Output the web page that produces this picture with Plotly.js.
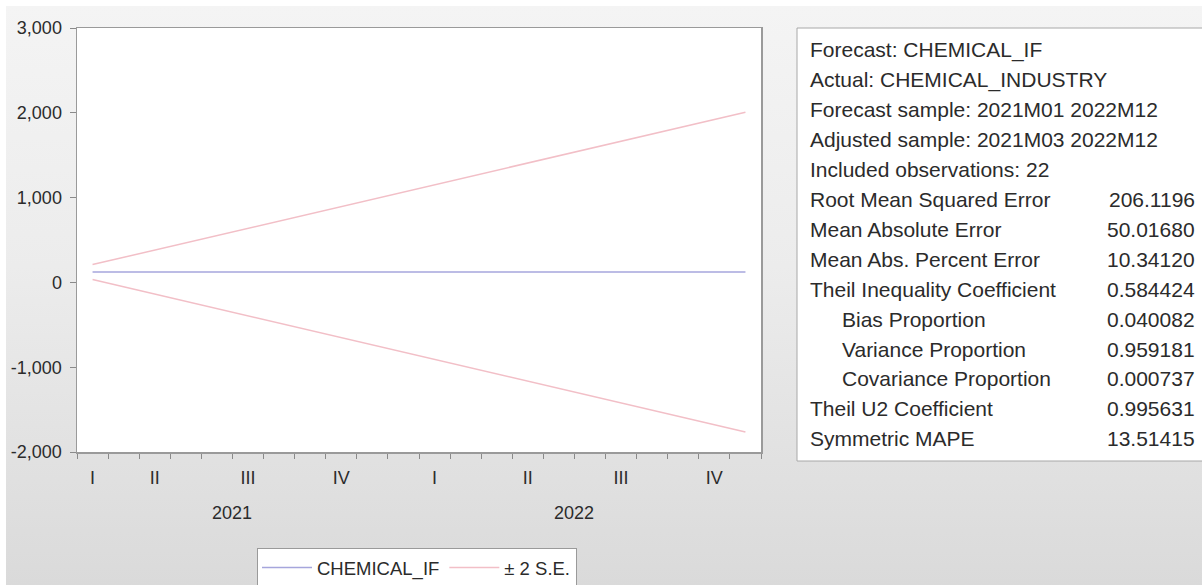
<!DOCTYPE html>
<html>
<head>
<meta charset="utf-8">
<script src="https://cdn.plot.ly/plotly-3.0.1.min.js"></script>
<style>
  html, body { margin: 0; padding: 0; background: #ffffff; }
  #bg { position: absolute; left: 6px; top: 6px; width: 1196px; height: 579px;
        background: linear-gradient(to bottom, #f4f4f4 0%, #ececec 45%, #dadada 100%); }
  #chart { position: absolute; left: 0; top: 0; width: 1202px; height: 585px; }
</style>
</head>
<body>
<div id="bg"></div>
<div id="chart"></div>
<script>
// ---- data ----
const months = ["2021M03","2021M04","2021M05","2021M06","2021M07","2021M08","2021M09","2021M10","2021M11","2021M12",
                "2022M01","2022M02","2022M03","2022M04","2022M05","2022M06","2022M07","2022M08","2022M09","2022M10","2022M11","2022M12"];
const forecastIF = [122,122,122,122,122,122,122,122,122,122,122,122,122,122,122,122,122,122,122,122,122,122];
const upperSE = [210,296,381,467,552,638,724,809,895,980,1066,1152,1237,1323,1408,1494,1580,1665,1751,1836,1922,2007];
const lowerSE = [34,-52,-137,-223,-308,-394,-480,-565,-651,-736,-822,-908,-993,-1079,-1164,-1250,-1336,-1421,-1507,-1592,-1678,-1763];
const yTicks = [-2000,-1000,0,1000,2000,3000];
const quarterNames = ["I","II","III","IV"];
const seriesNames = ["CHEMICAL_IF","\u00b1 2 S.E."];
const headerLines = ["Forecast: CHEMICAL_IF","Actual: CHEMICAL_INDUSTRY","Forecast sample: 2021M01 2022M12",
                     "Adjusted sample: 2021M03 2022M12","Included observations: 22"];
const statLabels = ["Root Mean Squared Error","Mean Absolute Error","Mean Abs. Percent Error","Theil Inequality Coefficient",
                    "Bias Proportion","Variance Proportion","Covariance Proportion","Theil U2 Coefficient","Symmetric MAPE"];
const statValues = ["206.1196","50.01680","10.34120","0.584424","0.040082","0.959181","0.000737","0.995631","13.51415"];
const statIndented = [false,false,false,false,true,true,true,false,false];

// ---- layout helpers ----
const L = 77, R = 761, T = 28, B = 452;
const px2x = px => (px - L) / (R - L);
const py2y = py => (B - py) / (B - T);
const FONT = "Liberation Sans, Arial, sans-serif";
const TXT = "#2b2b2b";

const idx = months.map((m, i) => i);

// quarter centres and year centres derived from month labels
const qGroups = {}, yGroups = {};
const qOrder = [];
months.forEach((m, i) => {
  const yr = m.slice(0, 4), mo = parseInt(m.slice(5), 10);
  const q = Math.floor((mo - 1) / 3);
  const key = yr + "Q" + q;
  if (!qGroups[key]) { qGroups[key] = {q: q, list: []}; qOrder.push(key); }
  qGroups[key].list.push(i);
  (yGroups[yr] = yGroups[yr] || []).push(i);
});
const avg = a => a.reduce((s, v) => s + v, 0) / a.length;
const qVals = [], qText = [];
qOrder.forEach(k => {
  const g = qGroups[k];
  qVals.push(g.list.length === 3 ? g.list[1] : avg(g.list));
  qText.push(quarterNames[g.q]);
});
// month boundaries and quarter boundaries
const monthBounds = [], quarterBounds = [];
for (let i = -1; i < months.length; i++) {
  monthBounds.push(i + 0.5);
  if (i >= 0 && i < months.length - 1) {
    const mo = parseInt(months[i].slice(5), 10);
    if (mo % 3 === 0) quarterBounds.push(i + 0.5);
  }
}

const traces = [
  {x: idx, y: forecastIF, type: "scatter", mode: "lines", name: seriesNames[0],
   line: {color: "#a6a6dc", width: 1.5}},
  {x: idx, y: upperSE, type: "scatter", mode: "lines", name: seriesNames[1], legendgroup: "se",
   line: {color: "#f2bfc7", width: 1.5}},
  {x: idx, y: lowerSE, type: "scatter", mode: "lines", name: seriesNames[1], legendgroup: "se", showlegend: false,
   line: {color: "#f2bfc7", width: 1.5}},
  // carrier so that the quarter-label axis is drawn
  {x: idx, y: forecastIF, type: "scatter", mode: "lines", xaxis: "x2", yaxis: "y", showlegend: false,
   hoverinfo: "skip", opacity: 0, line: {color: "rgba(0,0,0,0)", width: 0}}
];

const annotations = [];
Object.keys(yGroups).forEach(yr => {
  annotations.push({xref: "x", yref: "paper", x: avg(yGroups[yr]), y: py2y(513), text: yr, showarrow: false,
    xanchor: "center", yanchor: "middle", font: {family: FONT, size: 18, color: TXT}});
});
const rowY0 = 50, rowStep = 29.9;
const STAT_SIZE = 21;
headerLines.forEach((t, i) => {
  annotations.push({xref: "paper", yref: "paper", x: px2x(808), y: py2y(rowY0 + i * rowStep), text: t,
    showarrow: false, xanchor: "left", yanchor: "middle", font: {family: FONT, size: STAT_SIZE, color: TXT}});
});
statLabels.forEach((t, i) => {
  const r = headerLines.length + i;
  annotations.push({xref: "paper", yref: "paper", x: px2x(statIndented[i] ? 840 : 808), y: py2y(rowY0 + r * rowStep), text: t,
    showarrow: false, xanchor: "left", yanchor: "middle", font: {family: FONT, size: STAT_SIZE, color: TXT}});
  annotations.push({xref: "paper", yref: "paper", x: px2x(1197), y: py2y(rowY0 + r * rowStep), text: statValues[i],
    showarrow: false, xanchor: "right", yanchor: "middle", font: {family: FONT, size: STAT_SIZE, color: TXT}});
});

const layout = {
  width: 1202, height: 585,
  margin: {l: L, r: 1202 - R, t: T, b: 585 - B, pad: 0, autoexpand: false},
  paper_bgcolor: "rgba(0,0,0,0)",
  plot_bgcolor: "#ffffff",
  font: {family: FONT, size: 18, color: TXT},
  showlegend: true,
  legend: {orientation: "h", x: px2x(257), y: py2y(548), xanchor: "left", yanchor: "top",
           bgcolor: "#ffffff", bordercolor: "#9a9a9a", borderwidth: 1,
           font: {family: FONT, size: 18.5, color: TXT}, itemwidth: 50},
  xaxis: {range: [-0.5, months.length - 0.5], showgrid: false, zeroline: false,
          showline: true, mirror: true, linecolor: "#9a9a9a", linewidth: 1.5,
          tickmode: "array", tickvals: quarterBounds, ticktext: quarterBounds.map(() => ""),
          ticks: "outside", ticklen: 10, tickcolor: "#8a8a8a", tickwidth: 1, showticklabels: false,
          minor: {tickmode: "array", tickvals: monthBounds, ticks: "outside", ticklen: 5, tickcolor: "#8a8a8a", tickwidth: 1},
          fixedrange: true},
  xaxis2: {overlaying: "x", anchor: "y", side: "bottom", range: [-0.5, months.length - 0.5],
           showgrid: false, zeroline: false, showline: false, ticks: "",
           tickmode: "array", tickvals: qVals, ticktext: qText, ticklabelstandoff: 13,
           tickfont: {family: FONT, size: 18, color: TXT}},
  yaxis: {range: [-2000, 3000], showgrid: false, zeroline: false,
          showline: true, mirror: true, linecolor: "#9a9a9a", linewidth: 1.5,
          tickmode: "array", tickvals: yTicks, ticktext: yTicks.map(v => v.toLocaleString("en-US")),
          ticks: "outside", ticklen: 6, tickcolor: "#8a8a8a", ticklabelstandoff: 4,
          tickfont: {family: FONT, size: 18, color: TXT}},
  shapes: [
    {type: "rect", xref: "paper", yref: "paper", x0: px2x(797), x1: px2x(1215), y0: py2y(461), y1: py2y(28),
     fillcolor: "#ffffff", line: {color: "#a8a8a8", width: 1}, layer: "below"}
  ],
  annotations: annotations
};

Plotly.newPlot("chart", traces, layout, {staticPlot: true, displayModeBar: false});
</script>
</body>
</html>
